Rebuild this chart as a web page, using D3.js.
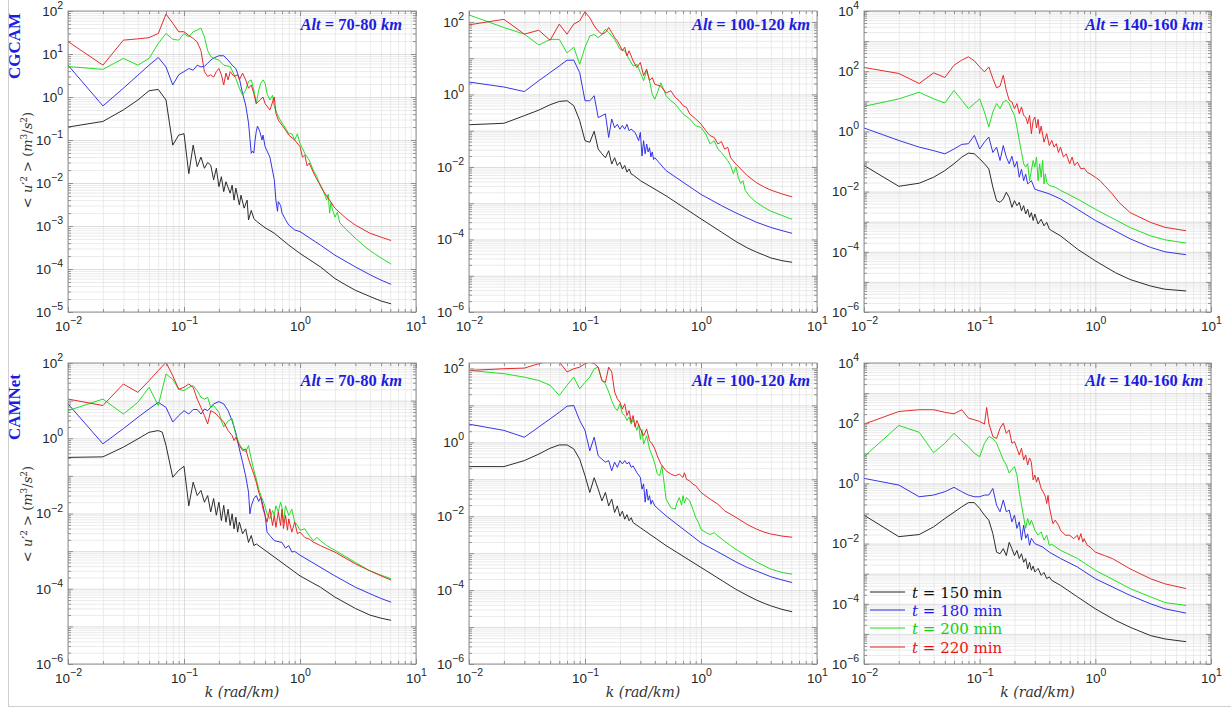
<!DOCTYPE html>
<html>
<head>
<meta charset="utf-8">
<script src="https://cdn.jsdelivr.net/npm/d3@7"></script>
<style>
  body { margin: 0; background: #fff; }
  svg { display: block; }
</style>
</head>
<body>
<div id="chart"></div>
<script>
// ---- data: [k (rad/km), <u'^2>] ----
const timeLabels = ["150", "180", "200", "220"];
const altLabels = ["70-80", "100-120", "140-160"];
const modelLabels = ["CGCAM", "CAMNet"];
const xTickExps = [-2, -1, 0, 1];
const yTickExps = [
  [[-5, -4, -3, -2, -1, 0, 1, 2], [-6, -4, -2, 0, 2], [-6, -4, -2, 0, 2, 4]],
  [[-6, -4, -2, 0, 2], [-6, -4, -2, 0, 2], [-6, -4, -2, 0, 2, 4]]
];
const yLimits = [
  [[1e-5, 1e2], [1e-6, 200], [1e-6, 1e4]],
  [[1e-6, 1e2], [1e-6, 140], [1e-6, 1e4]]
];

// CGCAM, 70-80 km
const cg70_150 = [[0.01,0.2],[0.02,0.27],[0.03,0.5],[0.04,0.85],[0.05,1.4],[0.06,1.5],[0.07,0.85],[0.08,0.076],[0.09,0.13],[0.1,0.14],[0.11,0.0165],[0.12,0.076],[0.13,0.024],[0.14,0.04],[0.15,0.022],[0.16,0.03],[0.17,0.026],[0.18,0.0118],[0.19,0.022],[0.2,0.0082],[0.21,0.014],[0.22,0.0063],[0.23,0.0107],[0.25,0.0058],[0.26,0.0089],[0.27,0.004],[0.28,0.0076],[0.3,0.0031],[0.31,0.0052],[0.33,0.0026],[0.35,0.004],[0.36,0.00138],[0.38,0.0023],[0.4,0.0015],[0.42,0.0013],[0.5,0.00091],[0.6,0.00068],[0.8,0.00036],[1,0.00023],[1.5,0.000112],[2,0.00006],[2.5,0.000042],[3,0.000032],[4,0.000023],[5,0.000018],[6.1,0.0000155]];
const cg70_180 = [[0.01,5.5],[0.02,0.62],[0.03,1.6],[0.04,3.2],[0.05,5.5],[0.06,8.3],[0.07,5],[0.08,1.9],[0.09,3.3],[0.1,3.9],[0.11,4.6],[0.12,4.2],[0.13,5.5],[0.14,5],[0.15,5.2],[0.16,6.1],[0.17,7.2],[0.18,8],[0.2,9.1],[0.22,9.1],[0.24,7.2],[0.26,5.5],[0.28,4.6],[0.3,2.7],[0.32,1.2],[0.34,0.65],[0.36,0.25],[0.38,0.049],[0.39,0.055],[0.4,0.05],[0.41,0.1],[0.42,0.16],[0.43,0.21],[0.45,0.16],[0.47,0.1],[0.48,0.13],[0.5,0.07],[0.55,0.04],[0.6,0.012],[0.62,0.004],[0.64,0.0022],[0.65,0.0037],[0.68,0.003],[0.7,0.002],[0.75,0.0014],[0.8,0.00105],[0.9,0.00081],[1,0.00074],[1.5,0.00036],[2,0.00021],[3,0.000112],[4,0.000074],[5,0.000055],[6.1,0.000044]];
const cg70_200 = [[0.01,5.1],[0.02,4.4],[0.03,7.9],[0.04,5.5],[0.05,7.9],[0.06,17.7],[0.07,30],[0.08,22],[0.09,21],[0.1,30],[0.11,25],[0.12,33],[0.13,36],[0.14,40],[0.15,25],[0.16,12],[0.17,8.7],[0.18,7.9],[0.2,7.2],[0.22,5.5],[0.25,5.1],[0.28,2.7],[0.3,1.6],[0.32,1.1],[0.34,1.45],[0.36,2.3],[0.38,2.5],[0.4,1.45],[0.42,0.7],[0.44,1.45],[0.46,2.1],[0.48,2.5],[0.5,2.1],[0.52,1.2],[0.55,0.85],[0.58,1.1],[0.6,0.6],[0.65,0.35],[0.7,0.25],[0.75,0.19],[0.8,0.14],[0.85,0.14],[0.9,0.1],[0.95,0.14],[1,0.083],[1.1,0.049],[1.2,0.034],[1.3,0.02],[1.4,0.014],[1.5,0.0083],[1.6,0.0063],[1.7,0.004],[1.75,0.0055],[1.8,0.002],[1.85,0.0035],[1.9,0.0025],[2,0.0016],[2.1,0.0021],[2.2,0.0012],[2.5,0.00083],[3,0.00052],[3.5,0.00036],[4,0.00027],[5,0.00018],[6.1,0.00013]];
const cg70_220 = [[0.01,19.5],[0.02,5.5],[0.03,21],[0.04,22.5],[0.05,24],[0.06,30],[0.07,85],[0.08,52],[0.09,33],[0.1,33],[0.11,27],[0.12,23],[0.13,19],[0.14,12],[0.15,3.9],[0.16,3],[0.17,3.3],[0.18,2.9],[0.19,3.9],[0.2,4.6],[0.21,3.3],[0.22,1.9],[0.23,3.6],[0.24,2.5],[0.25,3.9],[0.27,3],[0.29,3.3],[0.3,2.5],[0.32,3.6],[0.34,2.5],[0.36,1.6],[0.38,1.9],[0.4,1.2],[0.42,0.7],[0.45,0.85],[0.48,1],[0.5,0.7],[0.55,0.5],[0.6,1],[0.62,0.42],[0.65,0.29],[0.7,0.22],[0.75,0.17],[0.8,0.13],[0.9,0.1],[1,0.07],[1.05,0.04],[1.1,0.045],[1.15,0.025],[1.2,0.029],[1.3,0.018],[1.4,0.012],[1.5,0.009],[1.6,0.0063],[1.8,0.004],[2,0.0026],[2.5,0.0015],[3,0.00105],[4,0.00068],[5,0.00055],[6.1,0.00046]];

// CGCAM, 100-120 km
const cg100_150 = [[0.01,0.146],[0.02,0.16],[0.03,0.26],[0.04,0.37],[0.05,0.52],[0.06,0.64],[0.07,0.67],[0.08,0.49],[0.09,0.19],[0.1,0.053],[0.11,0.048],[0.12,0.096],[0.13,0.031],[0.14,0.023],[0.15,0.018],[0.16,0.028],[0.17,0.012],[0.18,0.018],[0.19,0.011],[0.2,0.0135],[0.21,0.0088],[0.22,0.011],[0.23,0.0072],[0.24,0.0088],[0.25,0.0064],[0.26,0.006],[0.3,0.0042],[0.5,0.0016],[1,0.00037],[1.5,0.00016],[2,0.000088],[2.5,0.000059],[3,0.000045],[3.5,0.000037],[4,0.000031],[5,0.000026],[6.1,0.0000235]];
const cg100_180 = [[0.01,2.2],[0.02,1.6],[0.03,1.2],[0.04,2.4],[0.05,4],[0.06,6.1],[0.07,8.8],[0.08,8.8],[0.09,4],[0.1,0.67],[0.11,0.67],[0.12,0.92],[0.13,0.23],[0.14,0.26],[0.15,0.29],[0.16,0.065],[0.17,0.21],[0.18,0.12],[0.19,0.15],[0.2,0.11],[0.21,0.14],[0.22,0.11],[0.23,0.15],[0.24,0.1],[0.25,0.11],[0.27,0.09],[0.29,0.053],[0.3,0.09],[0.31,0.02],[0.32,0.053],[0.33,0.023],[0.34,0.043],[0.35,0.026],[0.36,0.034],[0.37,0.019],[0.38,0.026],[0.39,0.016],[0.4,0.018],[0.5,0.0079],[1,0.00175],[1.5,0.00086],[2,0.00054],[3,0.0003],[4,0.000215],[5,0.000175],[6.1,0.000148]];
const cg100_200 = [[0.01,156],[0.02,70],[0.03,46],[0.04,23],[0.05,33],[0.06,33],[0.07,14],[0.08,20],[0.09,6.8],[0.1,20],[0.11,41],[0.12,45],[0.13,37],[0.14,45],[0.15,63],[0.16,51],[0.17,41],[0.18,33],[0.19,24],[0.2,17.7],[0.22,16],[0.24,9.4],[0.26,6.1],[0.28,6.8],[0.3,4],[0.32,2.4],[0.34,4.5],[0.36,2.4],[0.38,1],[0.4,0.74],[0.42,1.1],[0.45,2.1],[0.48,1.3],[0.5,0.92],[0.55,0.67],[0.6,0.54],[0.65,0.39],[0.7,0.29],[0.8,0.21],[0.9,0.137],[1,0.123],[1.1,0.08],[1.2,0.043],[1.3,0.053],[1.4,0.031],[1.5,0.025],[1.7,0.015],[1.8,0.011],[1.9,0.0065],[2,0.01],[2.1,0.005],[2.2,0.0035],[2.3,0.0042],[2.4,0.0023],[2.6,0.0016],[3,0.00105],[3.5,0.00077],[4,0.0006],[5,0.00046],[6.1,0.00036]];
const cg100_220 = [[0.01,83],[0.02,118],[0.03,46],[0.04,59],[0.05,31],[0.06,87],[0.07,46],[0.08,87],[0.09,107],[0.1,190],[0.11,130],[0.12,78],[0.13,56],[0.14,46],[0.15,51],[0.16,70],[0.17,51],[0.18,37],[0.19,30],[0.2,22],[0.21,16],[0.22,20],[0.23,11.6],[0.24,16],[0.26,8.4],[0.28,5.5],[0.3,7.6],[0.32,3.3],[0.34,5],[0.36,2.4],[0.38,2.9],[0.4,1.9],[0.45,1.7],[0.5,1.1],[0.55,1.26],[0.6,0.83],[0.65,0.67],[0.7,0.49],[0.75,0.44],[0.8,0.29],[0.9,0.21],[1,0.153],[1.1,0.1],[1.2,0.073],[1.3,0.065],[1.4,0.043],[1.5,0.05],[1.6,0.031],[1.7,0.035],[1.8,0.018],[2,0.012],[2.5,0.0058],[3,0.0037],[3.5,0.0028],[4,0.0023],[5,0.0018],[6.1,0.0015]];

// CGCAM, 140-160 km
const cg140_150 = [[0.01,0.074],[0.02,0.015],[0.03,0.019],[0.04,0.03],[0.05,0.05],[0.06,0.084],[0.07,0.14],[0.08,0.19],[0.09,0.18],[0.1,0.123],[0.11,0.084],[0.12,0.057],[0.13,0.014],[0.14,0.005],[0.15,0.0044],[0.16,0.0057],[0.17,0.0095],[0.18,0.0065],[0.19,0.003],[0.2,0.005],[0.21,0.0034],[0.22,0.0044],[0.23,0.0023],[0.24,0.0034],[0.25,0.0018],[0.26,0.0026],[0.27,0.0014],[0.28,0.002],[0.29,0.0011],[0.3,0.0018],[0.32,0.00084],[0.34,0.0012],[0.36,0.00073],[0.38,0.00095],[0.4,0.00057],[0.42,0.0005],[0.5,0.00034],[0.7,0.000123],[1,0.00005],[1.5,0.00002],[2,0.000012],[3,0.0000073],[4,0.0000057],[6.1,0.000005]];
const cg140_180 = [[0.01,1.3],[0.02,0.5],[0.03,0.3],[0.04,0.23],[0.05,0.18],[0.06,0.26],[0.07,0.37],[0.08,0.39],[0.09,0.74],[0.1,0.26],[0.11,0.44],[0.12,0.65],[0.13,0.2],[0.14,0.3],[0.15,0.108],[0.16,0.34],[0.17,0.14],[0.18,0.084],[0.19,0.15],[0.2,0.065],[0.21,0.1],[0.22,0.03],[0.23,0.055],[0.24,0.023],[0.25,0.038],[0.26,0.018],[0.28,0.023],[0.3,0.012],[0.4,0.0084],[0.5,0.0057],[0.7,0.0026],[1,0.0011],[2,0.00027],[3,0.00014],[4,0.0001],[6.1,0.00008]];
const cg140_200 = [[0.01,6.8],[0.02,12],[0.03,20],[0.04,12],[0.05,8.8],[0.06,23],[0.07,10.8],[0.08,5.7],[0.09,8.4],[0.1,12],[0.11,4.4],[0.12,1.4],[0.13,4.4],[0.14,8.4],[0.15,5.7],[0.16,9.5],[0.17,10.8],[0.18,8.4],[0.19,5],[0.2,3.4],[0.21,1.4],[0.22,0.5],[0.23,0.2],[0.24,0.084],[0.25,0.065],[0.26,0.084],[0.27,0.023],[0.28,0.05],[0.29,0.108],[0.3,0.065],[0.31,0.14],[0.32,0.023],[0.33,0.084],[0.34,0.03],[0.35,0.108],[0.36,0.018],[0.37,0.039],[0.38,0.02],[0.4,0.016],[0.45,0.014],[0.5,0.011],[0.7,0.0057],[1,0.0026],[2,0.00064],[3,0.00034],[4,0.00025],[6.1,0.000195]];
const cg140_220 = [[0.01,133],[0.02,84],[0.03,39],[0.04,88],[0.05,62],[0.06,158],[0.07,233],[0.08,300],[0.09,220],[0.1,139],[0.11,95],[0.12,139],[0.13,57],[0.14,28],[0.15,32],[0.16,73],[0.17,23],[0.18,10.8],[0.19,9.5],[0.2,5.7],[0.21,8.4],[0.22,3.9],[0.23,6.5],[0.24,3.4],[0.25,3],[0.26,1.8],[0.27,3.4],[0.28,0.84],[0.29,2.3],[0.3,3],[0.31,1.3],[0.32,2.5],[0.33,0.84],[0.34,1.5],[0.36,0.44],[0.38,0.84],[0.4,0.34],[0.42,0.5],[0.44,0.3],[0.46,0.39],[0.48,0.2],[0.5,0.3],[0.53,0.14],[0.56,0.18],[0.6,0.084],[0.63,0.14],[0.66,0.074],[0.7,0.095],[0.75,0.057],[0.8,0.06],[0.85,0.044],[0.9,0.039],[1,0.03],[1.1,0.023],[1.2,0.016],[1.4,0.0084],[1.6,0.0044],[2,0.002],[3,0.00095],[4,0.00065],[6.1,0.0005]];

// CAMNet, 70-80 km
const cn70_150 = [[0.01,0.31],[0.02,0.32],[0.03,0.58],[0.04,0.96],[0.05,1.44],[0.06,1.6],[0.065,1.45],[0.07,0.64],[0.08,0.092],[0.09,0.14],[0.1,0.18],[0.11,0.016],[0.12,0.068],[0.13,0.03],[0.14,0.041],[0.15,0.02],[0.16,0.03],[0.17,0.011],[0.18,0.025],[0.19,0.009],[0.2,0.02],[0.21,0.0065],[0.22,0.0165],[0.23,0.0059],[0.24,0.013],[0.25,0.0048],[0.26,0.0098],[0.27,0.0039],[0.28,0.008],[0.29,0.0032],[0.3,0.0059],[0.32,0.0029],[0.34,0.0039],[0.36,0.0017],[0.38,0.0026],[0.4,0.0014],[0.42,0.00155],[0.5,0.00105],[1,0.00022],[1.5,0.00011],[2,0.00006],[3,0.00003],[4,0.00002],[5,0.0000165],[6.1,0.0000145]];
const cn70_180 = [[0.01,8.2],[0.02,0.71],[0.03,1.8],[0.04,3.6],[0.05,6],[0.06,9],[0.07,6.6],[0.08,2.7],[0.09,4],[0.1,5.4],[0.11,4.4],[0.12,5.8],[0.13,5.8],[0.14,4.4],[0.15,6],[0.16,5.4],[0.18,8.2],[0.2,9.4],[0.22,8.2],[0.24,5.4],[0.26,2.9],[0.28,1.4],[0.3,0.52],[0.32,0.23],[0.34,0.1],[0.36,0.037],[0.37,0.0098],[0.38,0.016],[0.4,0.025],[0.42,0.03],[0.44,0.021],[0.46,0.027],[0.48,0.016],[0.5,0.009],[0.52,0.0032],[0.55,0.0026],[0.6,0.0019],[0.7,0.0017],[0.75,0.0012],[0.8,0.0014],[0.85,0.00095],[0.9,0.00098],[1,0.00078],[2,0.00022],[3,0.00011],[4,0.000074],[5,0.000055],[6.1,0.000044]];
const cn70_200 = [[0.01,5.4],[0.02,11],[0.03,4.4],[0.04,9],[0.05,22.6],[0.06,7.4],[0.07,51],[0.08,37],[0.09,20],[0.1,18.4],[0.11,22.6],[0.12,25],[0.13,18.4],[0.14,12.2],[0.15,11],[0.16,12.2],[0.17,6.6],[0.18,7.4],[0.19,6],[0.2,4.9],[0.21,2.9],[0.22,2],[0.24,2.9],[0.26,3.3],[0.28,1.2],[0.3,0.7],[0.32,0.52],[0.34,0.43],[0.36,0.64],[0.38,0.28],[0.4,0.14],[0.42,0.083],[0.44,0.045],[0.46,0.03],[0.48,0.022],[0.5,0.015],[0.52,0.0098],[0.55,0.0072],[0.58,0.012],[0.6,0.0089],[0.62,0.016],[0.65,0.011],[0.68,0.02],[0.7,0.014],[0.72,0.0059],[0.75,0.016],[0.8,0.0089],[0.85,0.013],[0.9,0.0059],[0.95,0.0048],[1,0.0036],[1.1,0.0039],[1.2,0.0026],[1.3,0.0019],[1.4,0.0023],[1.5,0.0019],[1.7,0.0014],[2,0.00105],[3,0.0005],[4,0.0003],[5,0.00023],[6.1,0.000185]];
const cn70_220 = [[0.01,11],[0.02,7.4],[0.03,27.7],[0.04,16.6],[0.05,34],[0.06,63],[0.07,104],[0.08,46],[0.09,20],[0.1,22.6],[0.11,27.7],[0.12,22.6],[0.13,11],[0.14,6.6],[0.15,4],[0.16,2.4],[0.17,5.4],[0.18,4.9],[0.19,4.4],[0.2,3.6],[0.22,2.7],[0.24,1.6],[0.26,1.18],[0.27,0.87],[0.28,1.06],[0.3,0.64],[0.32,0.47],[0.34,0.52],[0.36,0.28],[0.38,0.17],[0.4,0.11],[0.42,0.068],[0.44,0.037],[0.46,0.025],[0.48,0.0133],[0.5,0.0089],[0.52,0.0059],[0.55,0.0133],[0.58,0.0048],[0.6,0.0089],[0.62,0.0043],[0.65,0.011],[0.68,0.0048],[0.7,0.013],[0.72,0.004],[0.75,0.0089],[0.78,0.0036],[0.8,0.0072],[0.85,0.0032],[0.9,0.0059],[0.95,0.0029],[1,0.0032],[1.1,0.0023],[1.2,0.0021],[1.3,0.00175],[1.5,0.0014],[2,0.00094],[3,0.00046],[4,0.0003],[5,0.00022],[6.1,0.00017]];

// CAMNet, 100-120 km
const cn100_150 = [[0.01,0.22],[0.02,0.22],[0.03,0.32],[0.04,0.48],[0.05,0.69],[0.06,0.85],[0.07,0.85],[0.08,0.66],[0.09,0.35],[0.1,0.125],[0.11,0.044],[0.12,0.11],[0.13,0.054],[0.14,0.026],[0.15,0.044],[0.16,0.019],[0.17,0.029],[0.18,0.0126],[0.19,0.019],[0.2,0.01],[0.21,0.0137],[0.22,0.0083],[0.23,0.011],[0.24,0.0075],[0.25,0.0091],[0.26,0.0067],[0.3,0.0049],[0.5,0.0016],[1,0.00041],[2,0.000105],[2.5,0.000072],[3,0.000054],[3.5,0.000044],[4,0.0000375],[5,0.00003],[6.1,0.000026]];
const cn100_180 = [[0.01,3.1],[0.02,2.1],[0.03,1.37],[0.04,2.6],[0.05,4.3],[0.06,6.5],[0.07,9.5],[0.08,9.9],[0.09,3.9],[0.1,2.1],[0.11,0.59],[0.12,1.37],[0.13,0.43],[0.14,0.35],[0.15,0.29],[0.16,0.32],[0.17,0.17],[0.18,0.29],[0.19,0.21],[0.2,0.32],[0.21,0.26],[0.22,0.32],[0.23,0.26],[0.24,0.29],[0.25,0.21],[0.26,0.23],[0.28,0.15],[0.3,0.112],[0.31,0.054],[0.32,0.075],[0.33,0.024],[0.34,0.054],[0.35,0.027],[0.36,0.036],[0.37,0.021],[0.38,0.027],[0.4,0.019],[0.5,0.0102],[1,0.0019],[1.5,0.00096],[2,0.00058],[2.5,0.00041],[3,0.00033],[4,0.00023],[5,0.000188],[6.1,0.00016]];
const cn100_200 = [[0.01,88],[0.02,72],[0.03,58],[0.04,47],[0.05,35],[0.06,18.5],[0.07,35],[0.08,58],[0.09,28],[0.1,42],[0.11,58],[0.12,98],[0.13,108],[0.14,47],[0.15,38],[0.16,23],[0.17,13.5],[0.18,8.9],[0.19,7.2],[0.2,11],[0.21,5.9],[0.22,5.3],[0.23,3.9],[0.24,4.8],[0.25,3.1],[0.26,4.2],[0.28,2.1],[0.29,3.1],[0.3,1.2],[0.31,2.2],[0.32,0.9],[0.34,1.5],[0.36,0.66],[0.38,0.43],[0.4,0.26],[0.42,0.14],[0.44,0.124],[0.46,0.23],[0.48,0.082],[0.5,0.029],[0.55,0.017],[0.6,0.0155],[0.62,0.023],[0.65,0.032],[0.68,0.02],[0.7,0.036],[0.72,0.023],[0.75,0.032],[0.8,0.026],[0.85,0.0155],[0.9,0.0093],[0.95,0.0068],[1,0.0044],[1.1,0.0036],[1.2,0.0032],[1.3,0.0036],[1.4,0.0029],[1.6,0.0021],[1.8,0.0016],[2,0.00127],[2.5,0.00082],[3,0.00058],[4,0.00037],[5,0.0003],[6.1,0.00027]];
const cn100_220 = [[0.01,88],[0.02,98],[0.03,102],[0.04,134],[0.05,160],[0.06,150],[0.07,80],[0.08,98],[0.09,108],[0.1,134],[0.11,150],[0.12,134],[0.13,108],[0.14,47],[0.15,42],[0.16,108],[0.17,80],[0.18,23],[0.19,15],[0.2,12.2],[0.21,8],[0.22,11],[0.23,5.3],[0.24,7.2],[0.25,3.5],[0.26,5.3],[0.27,2.6],[0.28,3.9],[0.3,2.3],[0.32,1.5],[0.34,2.3],[0.36,1.1],[0.38,0.9],[0.4,0.66],[0.42,0.43],[0.45,0.26],[0.5,0.17],[0.55,0.138],[0.6,0.124],[0.65,0.138],[0.7,0.112],[0.72,0.15],[0.75,0.1],[0.8,0.09],[0.85,0.074],[0.9,0.067],[0.95,0.054],[1,0.044],[1.2,0.029],[1.4,0.021],[1.6,0.014],[2,0.0093],[2.5,0.006],[3,0.0045],[3.5,0.0037],[4,0.0033],[5,0.0029],[6.1,0.0027]];

// CAMNet, 140-160 km
const cn140_150 = [[0.01,0.088],[0.02,0.017],[0.03,0.02],[0.04,0.036],[0.05,0.068],[0.06,0.11],[0.07,0.167],[0.08,0.23],[0.09,0.23],[0.1,0.147],[0.11,0.088],[0.12,0.06],[0.13,0.0215],[0.14,0.0052],[0.15,0.0046],[0.16,0.0068],[0.17,0.004],[0.18,0.011],[0.19,0.0068],[0.2,0.004],[0.21,0.0059],[0.22,0.0032],[0.23,0.0046],[0.24,0.0024],[0.25,0.0032],[0.26,0.00145],[0.27,0.0024],[0.28,0.0013],[0.29,0.0018],[0.3,0.00114],[0.32,0.0015],[0.34,0.00088],[0.36,0.0011],[0.38,0.00069],[0.4,0.00078],[0.42,0.0006],[0.5,0.00041],[0.7,0.00017],[1,0.000068],[1.5,0.000028],[2,0.0000166],[3,0.0000088],[4,0.0000068],[6.1,0.0000055]];
const cn140_180 = [[0.01,1.47],[0.02,0.88],[0.03,0.36],[0.04,0.41],[0.05,0.53],[0.06,0.74],[0.07,0.53],[0.08,0.41],[0.09,0.36],[0.1,0.36],[0.11,0.41],[0.12,0.41],[0.13,0.68],[0.14,0.19],[0.15,0.114],[0.16,0.28],[0.17,0.114],[0.18,0.13],[0.19,0.053],[0.2,0.088],[0.21,0.032],[0.22,0.053],[0.23,0.013],[0.24,0.041],[0.25,0.015],[0.26,0.021],[0.27,0.0088],[0.28,0.015],[0.3,0.01],[0.35,0.0077],[0.4,0.0052],[0.5,0.0032],[0.7,0.00167],[1,0.00068],[2,0.00019],[3,0.0001],[4,0.000068],[6.1,0.000049]];
const cn140_200 = [[0.01,7.7],[0.02,84],[0.03,50],[0.04,10.5],[0.05,21.5],[0.06,46],[0.07,26],[0.08,16.7],[0.09,10],[0.1,7.7],[0.11,21.5],[0.12,36],[0.13,31],[0.14,21.5],[0.15,11.3],[0.16,6],[0.17,4.1],[0.18,2.2],[0.19,2.9],[0.2,3.6],[0.21,1.9],[0.22,0.53],[0.23,0.19],[0.24,0.077],[0.25,0.032],[0.26,0.068],[0.27,0.041],[0.28,0.06],[0.3,0.028],[0.32,0.019],[0.34,0.0245],[0.36,0.013],[0.38,0.019],[0.4,0.0088],[0.42,0.0095],[0.5,0.006],[0.7,0.0032],[1,0.0013],[2,0.00032],[3,0.00017],[4,0.00011],[6.1,0.000088]];
const cn140_220 = [[0.01,93],[0.02,245],[0.03,280],[0.04,280],[0.05,230],[0.06,205],[0.07,280],[0.08,147],[0.09,130],[0.1,114],[0.11,93],[0.115,333],[0.12,100],[0.13,36],[0.14,31],[0.15,68],[0.16,100],[0.17,46],[0.18,60],[0.19,21.5],[0.2,24.5],[0.21,14.7],[0.22,8.8],[0.23,14.7],[0.24,6],[0.25,8.8],[0.26,4.1],[0.27,7],[0.28,5],[0.29,1.3],[0.3,1.9],[0.31,1.1],[0.32,1.6],[0.34,0.68],[0.36,0.46],[0.37,0.36],[0.38,0.215],[0.39,0.4],[0.4,0.167],[0.42,0.068],[0.43,0.046],[0.45,0.06],[0.48,0.041],[0.5,0.028],[0.55,0.019],[0.6,0.019],[0.65,0.0146],[0.7,0.019],[0.72,0.013],[0.75,0.0215],[0.78,0.0112],[0.8,0.0146],[0.85,0.0088],[0.9,0.0077],[1,0.0052],[1.2,0.004],[1.4,0.0032],[2,0.00145],[3,0.00068],[4,0.00046],[6.1,0.00032]];

const panelSeries = [
  [[cg70_150, cg70_180, cg70_200, cg70_220], [cg100_150, cg100_180, cg100_200, cg100_220], [cg140_150, cg140_180, cg140_200, cg140_220]],
  [[cn70_150, cn70_180, cn70_200, cn70_220], [cn100_150, cn100_180, cn100_200, cn100_220], [cn140_150, cn140_180, cn140_200, cn140_220]]
];

// ---- layout / style ----
const W = 1231, H = 707;
const cols = [
  {x0: 68, x1: 416, altRight: 402},
  {x0: 469, x1: 817, altRight: 810},
  {x0: 864, x1: 1211, altRight: 1203}
];
const rows = [
  {y0: 11, y1: 312, altBase: 30, modelY: 46, yLabelY: 160},
  {y0: 363, y1: 664, altBase: 386, modelY: 407, yLabelY: 514}
];
const lineColors = ["#222222", "#2a2ae6", "#18dc18", "#e42020"];
const legendColors = ["#111111", "#1a1af0", "#10d010", "#ee1010"];
const blueText = "#1d1de0";
const tickFont = "'Liberation Sans', Arial, sans-serif";
const mathFont = "'DejaVu Serif', serif";
const timesFont = "'Liberation Serif', 'Times New Roman', serif";

const svg = d3.select("#chart").append("svg")
  .attr("width", W)
  .attr("height", H)
  .attr("viewBox", `0 0 ${W} ${H}`);

svg.append("rect").attr("width", W).attr("height", H).attr("fill", "#fff");
// thin frame of the original figure
svg.append("rect")
  .attr("x", 8.5).attr("y", -3)
  .attr("width", W + 10).attr("height", 709.5)
  .attr("fill", "none").attr("stroke", "#cfcfcf");

function minorValues(lo, hi) {
  const out = [];
  for (let e = Math.floor(Math.log10(lo)); e < Math.ceil(Math.log10(hi)); e++) {
    for (let m = 2; m <= 9; m++) {
      const v = +(m + "e" + e);
      if (v > lo && v < hi) out.push(v);
    }
  }
  return out;
}
function majorValues(lo, hi) {
  const out = [];
  for (let e = Math.ceil(Math.log10(lo) - 1e-9); e <= Math.floor(Math.log10(hi) + 1e-9); e++) out.push(+("1e" + e));
  return out;
}
function powLabel(sel, exps) {
  sel.selectAll(".tick text").each(function(d, i) {
    const t = d3.select(this);
    t.text("10");
    t.append("tspan").attr("dy", "-0.65em").attr("font-size", "10.5px")
      .text(String(exps[i]).replace("-", "\u2212"));
  });
}

let clipId = 0;
rows.forEach((row, r) => {
  cols.forEach((col, c) => {
    const {x0, x1} = col;
    const {y0, y1} = row;
    const [yLo, yHi] = yLimits[r][c];
    const x = d3.scaleLog().domain([1e-2, 1e1]).range([x0, x1]);
    const y = d3.scaleLog().domain([yLo, yHi]).range([y1, y0]);
    const g = svg.append("g");

    const xMinor = minorValues(1e-2, 1e1), xMajor = majorValues(1e-2, 1e1);
    const yMinor = minorValues(yLo, yHi), yMajor = majorValues(yLo, yHi);

    // grid
    const grid = (axis, tr, color) => {
      const gg = g.append("g").attr("transform", tr).call(axis);
      gg.select(".domain").remove();
      gg.selectAll("line").attr("stroke", color).attr("stroke-width", 0.8);
      gg.selectAll("text").remove();
    };
    grid(d3.axisBottom(x).tickValues(xMinor).tickSize(-(y1 - y0)).tickFormat(""), `translate(0,${y1})`, "#e6e6e6");
    grid(d3.axisLeft(y).tickValues(yMinor).tickSize(-(x1 - x0)).tickFormat(""), `translate(${x0},0)`, "#e6e6e6");
    grid(d3.axisBottom(x).tickValues(xMajor).tickSize(-(y1 - y0)).tickFormat(""), `translate(0,${y1})`, "#d4d4d4");
    grid(d3.axisLeft(y).tickValues(yMajor).tickSize(-(x1 - x0)).tickFormat(""), `translate(${x0},0)`, "#d4d4d4");

    // series
    const id = "clip" + (clipId++);
    svg.append("clipPath").attr("id", id)
      .append("rect").attr("x", x0).attr("y", y0).attr("width", x1 - x0).attr("height", y1 - y0);
    const line = d3.line().x(d => x(d[0])).y(d => y(d[1]));
    g.append("g").attr("clip-path", `url(#${id})`)
      .selectAll("path")
      .data(panelSeries[r][c])
      .join("path")
      .attr("d", line)
      .attr("fill", "none")
      .attr("stroke", (d, i) => lineColors[i])
      .attr("stroke-width", 0.95)
      .attr("stroke-linejoin", "round");

    // inward ticks on all four sides
    const ticks = (axis, tr) => {
      const gg = g.append("g").attr("transform", tr).call(axis);
      gg.select(".domain").remove();
      gg.selectAll("line").attr("stroke", "#7a7a7a").attr("stroke-width", 0.8);
      gg.selectAll("text").remove();
    };
    [[xMajor, 5], [xMinor, 3]].forEach(([vals, len]) => {
      ticks(d3.axisBottom(x).tickValues(vals).tickSize(-len).tickFormat(""), `translate(0,${y1})`);
      ticks(d3.axisTop(x).tickValues(vals).tickSize(-len).tickFormat(""), `translate(0,${y0})`);
    });
    [[yMajor, 5], [yMinor, 3]].forEach(([vals, len]) => {
      ticks(d3.axisLeft(y).tickValues(vals).tickSize(-len).tickFormat(""), `translate(${x0},0)`);
      ticks(d3.axisRight(y).tickValues(vals).tickSize(-len).tickFormat(""), `translate(${x1},0)`);
    });

    g.append("rect")
      .attr("x", x0).attr("y", y0).attr("width", x1 - x0).attr("height", y1 - y0)
      .attr("fill", "none").attr("stroke", "#8a8a8a").attr("stroke-width", 0.9);

    // tick labels
    const xl = g.append("g").attr("transform", `translate(0,${y1})`)
      .call(d3.axisBottom(x).tickValues(xTickExps.map(e => +("1e" + e))).tickSize(0).tickPadding(9));
    xl.select(".domain").remove();
    xl.selectAll("text").attr("font-family", tickFont).attr("font-size", "13.5px").attr("fill", "#262626");
    powLabel(xl, xTickExps);

    const exps = yTickExps[r][c];
    const yl = g.append("g").attr("transform", `translate(${x0},0)`)
      .call(d3.axisLeft(y).tickValues(exps.map(e => +("1e" + e))).tickSize(0).tickPadding(5));
    yl.select(".domain").remove();
    yl.selectAll("text").attr("font-family", tickFont).attr("font-size", "13.5px").attr("fill", "#262626");
    powLabel(yl, exps);

    // altitude tag
    const alt = g.append("text")
      .attr("x", col.altRight).attr("y", row.altBase)
      .attr("text-anchor", "end")
      .attr("font-family", timesFont).attr("font-weight", "bold").attr("font-size", "16.5px")
      .attr("fill", blueText);
    alt.append("tspan").attr("font-style", "italic").text("Alt");
    alt.append("tspan").text(" = " + altLabels[c] + " ");
    alt.append("tspan").attr("font-style", "italic").text("km");

    if (r === 1) {
      svg.append("text")
        .attr("x", (x0 + x1) / 2).attr("y", 697)
        .attr("text-anchor", "middle")
        .attr("font-family", mathFont).attr("font-style", "italic").attr("font-size", "14px")
        .attr("fill", "#333")
        .text("k (rad/km)");
    }
  });

  // row labels
  svg.append("text")
    .attr("transform", `translate(20,${row.modelY}) rotate(-90)`)
    .attr("text-anchor", "middle")
    .attr("font-family", timesFont).attr("font-weight", "bold").attr("font-size", "17px")
    .attr("fill", blueText)
    .text(modelLabels[r]);

  const yt = svg.append("text")
    .attr("transform", `translate(32,${row.yLabelY}) rotate(-90)`)
    .attr("text-anchor", "middle")
    .attr("font-family", mathFont).attr("font-size", "13px")
    .attr("fill", "#333");
  yt.append("tspan").text("< ");
  yt.append("tspan").attr("font-style", "italic").text("u");
  yt.append("tspan").text("′");
  yt.append("tspan").attr("dy", -5).attr("font-size", "9px").text("2");
  yt.append("tspan").attr("dy", 5).text(" > (");
  yt.append("tspan").attr("font-style", "italic").text("m");
  yt.append("tspan").attr("dy", -5).attr("font-size", "9px").text("3");
  yt.append("tspan").attr("dy", 5).text("/");
  yt.append("tspan").attr("font-style", "italic").text("s");
  yt.append("tspan").attr("dy", -5).attr("font-size", "9px").text("2");
  yt.append("tspan").attr("dy", 5).text(")");
});

// legend (bottom-right panel)
const legendRowsY = [592, 610, 628, 647];
const legend = svg.append("g");
timeLabels.forEach((t, i) => {
  legend.append("line")
    .attr("x1", 870).attr("x2", 905)
    .attr("y1", legendRowsY[i]).attr("y2", legendRowsY[i])
    .attr("stroke", lineColors[i]).attr("stroke-width", 1.2);
  const tx = legend.append("text")
    .attr("x", 912).attr("y", legendRowsY[i] + 6)
    .attr("font-family", mathFont).attr("font-size", "15px")
    .attr("fill", legendColors[i]);
  tx.append("tspan").attr("font-style", "italic").text("t");
  tx.append("tspan").text(" = " + t + " min");
});
</script>
</body>
</html>
